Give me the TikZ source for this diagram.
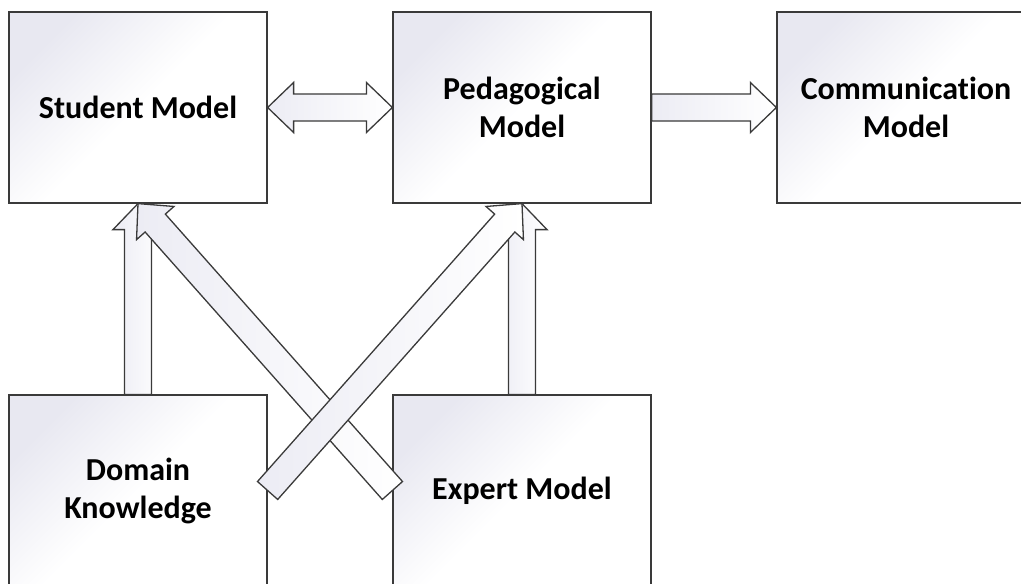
\documentclass[tikz,border=0pt]{standalone}
\usepackage{fontspec}
\setmainfont{Carlito}[Ligatures=NoCommon]
\usetikzlibrary{calc}

\definecolor{edge}{HTML}{3A3A3A}
\definecolor{boxtint}{HTML}{E8E8F1}
\definecolor{arrowtint}{HTML}{ECECF4}

\tikzset{
  model/.style={draw=edge, line width=1.2pt, minimum width=258pt,
    minimum height=191pt, inner sep=0pt, align=center,
    font=\fontsize{32}{38}\selectfont\bfseries,
    top color=boxtint, bottom color=white, middle color=white,
    shading angle=45},
  arrowbody/.style={draw=edge, line width=1.3pt, line join=miter,
    left color=arrowtint, right color=white},
  % hollow block arrow from start to target, head at target
  blockarrow/.style={to path={
    ($(\tikztostart)!13.5pt!90:(\tikztotarget)$)
    -- ($(\tikztotarget)!26pt!(\tikztostart)!13.5pt!-90:(\tikztostart)$)
    -- ($(\tikztotarget)!26pt!(\tikztostart)!25pt!-90:(\tikztostart)$)
    -- (\tikztotarget)
    -- ($(\tikztotarget)!26pt!(\tikztostart)!25pt!90:(\tikztostart)$)
    -- ($(\tikztotarget)!26pt!(\tikztostart)!13.5pt!90:(\tikztostart)$)
    -- ($(\tikztostart)!13.5pt!-90:(\tikztotarget)$)
    -- cycle}},
  % hollow block arrow with heads at both ends
  dblblockarrow/.style={to path={
    (\tikztostart)
    -- ($(\tikztostart)!26pt!(\tikztotarget)!25pt!90:(\tikztotarget)$)
    -- ($(\tikztostart)!26pt!(\tikztotarget)!13.5pt!90:(\tikztotarget)$)
    -- ($(\tikztotarget)!26pt!(\tikztostart)!13.5pt!-90:(\tikztostart)$)
    -- ($(\tikztotarget)!26pt!(\tikztostart)!25pt!-90:(\tikztostart)$)
    -- (\tikztotarget)
    -- ($(\tikztotarget)!26pt!(\tikztostart)!25pt!90:(\tikztostart)$)
    -- ($(\tikztotarget)!26pt!(\tikztostart)!13.5pt!90:(\tikztostart)$)
    -- ($(\tikztostart)!26pt!(\tikztotarget)!13.5pt!-90:(\tikztotarget)$)
    -- ($(\tikztostart)!26pt!(\tikztotarget)!25pt!-90:(\tikztotarget)$)
    -- cycle}}
}

\begin{document}
\begin{tikzpicture}[x=1pt, y=-1pt]
  \useasboundingbox (0,0) rectangle (1021,584);
  \clip (0,0) rectangle (1021,584);
  \fill[white] (0,0) rectangle (1021,584);

  % model boxes
  \node[model] (student) at (138,107.5) {Student Model};
  \node[model] (peda)    at (522,107.5) {Pedagogical\\Model};
  \node[model] (comm)    at (906,107.5) {Communication\\Model};
  \node[model] (domain)  at (138,490.5) {Domain\\Knowledge};
  \node[model] (expert)  at (522,490.5) {Expert Model};

  % block arrows between the models
  \draw[arrowbody] (student.east) to[dblblockarrow] (peda.west);
  \draw[arrowbody] (peda.east) to[blockarrow] (comm.west);
  \draw[arrowbody] (domain.north) to[blockarrow] (student.south);
  \draw[arrowbody] (expert.north) to[blockarrow] (peda.south);
  \draw[arrowbody] (expert.west) to[blockarrow] (student.south);
  \draw[arrowbody] (domain.east) to[blockarrow] (peda.south);
\end{tikzpicture}
\end{document}
